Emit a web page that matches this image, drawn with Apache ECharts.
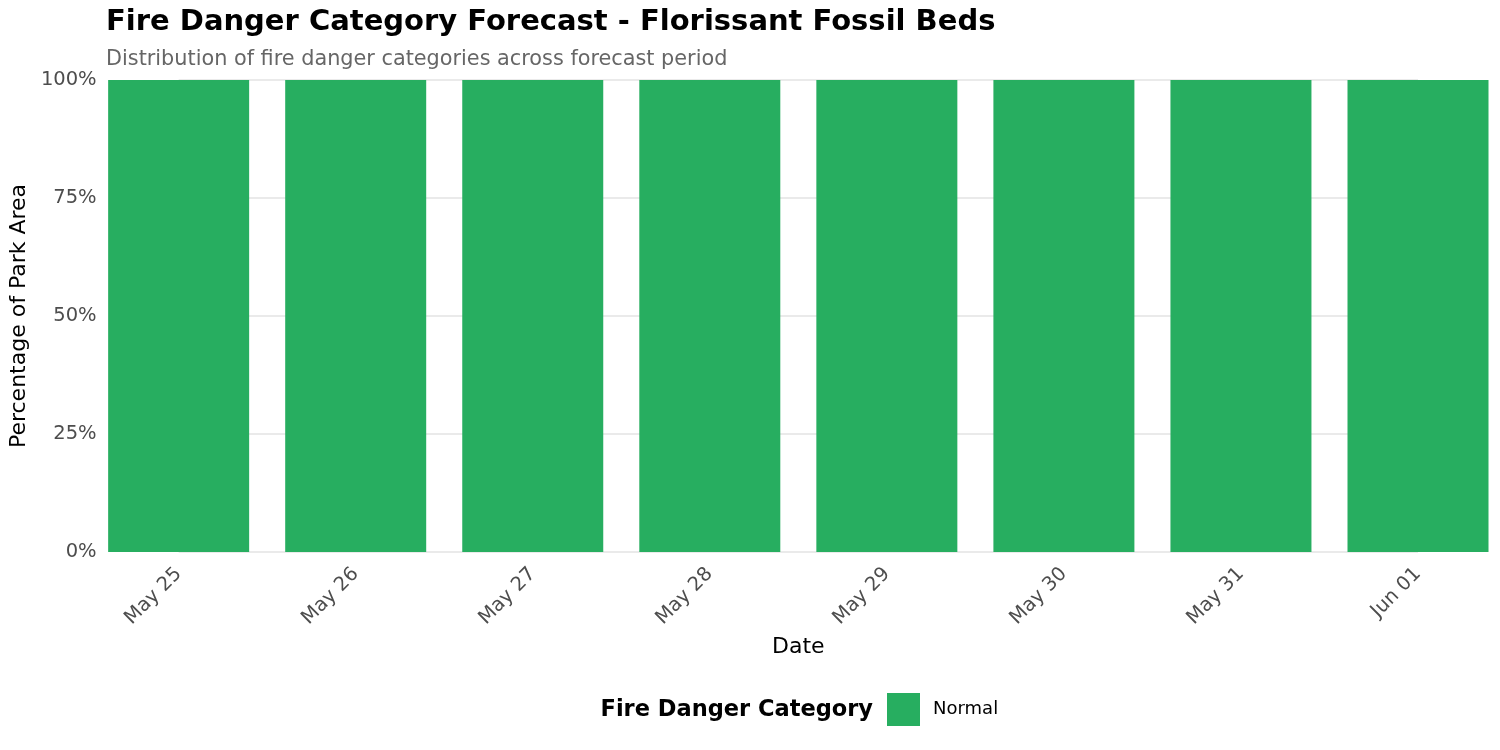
<!DOCTYPE html>
<html>
<head>
<meta charset="utf-8">
<script src="https://cdn.jsdelivr.net/npm/echarts@6/dist/echarts.min.js"></script>
<style>
  html, body { margin: 0; padding: 0; background: #fff; }
  #main { width: 1500px; height: 750px; }
</style>
</head>
<body>
<div id="main"></div>
<script>
// forecast dates and share of park area in each category
var dates = ["May 25", "May 26", "May 27", "May 28", "May 29", "May 30", "May 31", "Jun 01"];
var normalPct = [100, 100, 100, 100, 100, 100, 100, 100];
var yTicks = [0, 25, 50, 75, 100];

var font = "DejaVu Sans";
var chart = echarts.init(document.getElementById("main"));

chart.setOption({
  backgroundColor: "#ffffff",
  animation: false,
  title: {
    text: "Fire Danger Category Forecast - Florissant Fossil Beds",
    subtext: "Distribution of fire danger categories across forecast period",
    left: 101,
    top: 3,
    itemGap: 12,
    textStyle: { fontFamily: font, fontSize: 29, fontWeight: "bold", color: "#000" },
    subtextStyle: { fontFamily: font, fontSize: 20.8, color: "#666666" }
  },
  legend: {
    left: 887,
    top: 693,
    padding: 0,
    itemWidth: 33,
    itemHeight: 33,
    icon: "rect",
    data: ["Normal"],
    textStyle: { fontFamily: font, fontSize: 18, color: "#000", padding: [2, 0, 0, 8] }
  },
  graphic: [{
    type: "text",
    right: 1500 - 873,
    top: 699,
    style: { text: "Fire Danger Category", font: "bold 22.5px 'DejaVu Sans'", fill: "#000" }
  }],
  grid: { left: 178, right: 82, top: 80, bottom: 198 },
  xAxis: {
    type: "category",
    data: dates,
    boundaryGap: false,
    name: "Date",
    nameLocation: "middle",
    nameGap: 84,
    nameTextStyle: { fontFamily: font, fontSize: 22, color: "#000" },
    axisLine: { show: false },
    axisTick: { show: false },
    axisLabel: { rotate: 45, margin: 19, fontFamily: font, fontSize: 19.5, color: "#4d4d4d" }
  },
  yAxis: {
    type: "value",
    min: yTicks[0],
    max: yTicks[yTicks.length - 1],
    interval: 25,
    name: "Percentage of Park Area",
    nameLocation: "middle",
    nameGap: 147,
    nameTextStyle: { fontFamily: font, fontSize: 22, color: "#000" },
    axisLabel: { formatter: "{value}%", margin: 82, padding: [4, 0, 0, 0], fontFamily: font, fontSize: 19.5, color: "#4d4d4d" },
    splitLine: { lineStyle: { color: "#e3e3e3", width: 1.5 } }
  },
  series: [{
    name: "Normal",
    type: "bar",
    data: normalPct,
    barWidth: 141,
    clip: false,
    itemStyle: { color: "#27ae60" }
  }]
});
</script>
</body>
</html>
